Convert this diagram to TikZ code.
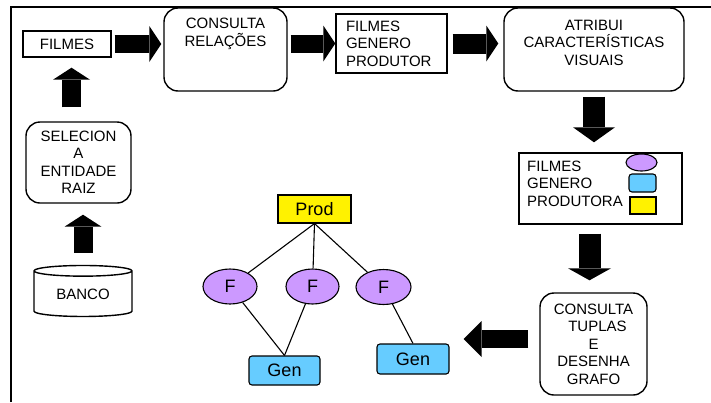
\documentclass[tikz,border=0pt]{standalone}
\usepackage{fontspec}
\setmainfont{Liberation Sans}
\usetikzlibrary{shapes.geometric, arrows.meta, positioning}
\definecolor{lilas}{HTML}{CC99FF}
\definecolor{azul}{HTML}{66CCFF}
\tikzset{every node/.style={font=\fontsize{15}{17.5}\selectfont},
         caixa/.style={draw, line width=1.4pt, inner sep=0pt, align=center},
         caixaredonda/.style={caixa, rounded corners=14pt},
         texto/.style={inner sep=0pt, align=center},
         filme/.style={draw, ellipse, fill=lilas, line width=1.1pt, inner sep=0pt, font=\fontsize{18}{20}\selectfont},
         genero/.style={draw, fill=azul, rounded corners=3pt, line width=1.1pt, inner sep=0pt, font=\fontsize{18}{20}\selectfont},
         produtora/.style={draw, fill=yellow, line width=1.1pt, inner sep=0pt, font=\fontsize{18}{20}\selectfont},
         aresta/.style={line width=1.1pt},
         seta/.style n args={3}{line width=#1, -{Triangle[length=#2, width=#3, line width=0pt]}},
        }

\begin{document}
\begin{tikzpicture}[x=1pt,y=-1pt]
        \useasboundingbox (0,0) rectangle (711,402);
        \draw[line width=1.2pt](11,402)--(11,7)--(711,7);

        % fluxo de cima
        \node[caixa, minimum width=88pt, minimum height=26pt](filmes)at(67,44){FILMES};
        \node[caixaredonda, minimum width=123pt, minimum height=83pt](consulta)at(225.5,49.5){};
        \node[texto](consultatxt)at([yshift=-26.5pt]consulta.north){CONSULTA\\RELAÇÕES};
        \node[caixa, minimum width=111pt, minimum height=59pt, text width=91pt, align=left](lista)at(391.5,43.5){FILMES\\GENERO\\PRODUTOR};
        \node[caixaredonda, minimum width=180pt, minimum height=83pt](atribui)at(594,49.5){};
        \node[texto](atribuitxt)at([yshift=-35.5pt]atribui.north){ATRIBUI\\CARACTERÍSTICAS\\VISUAIS};

        % legenda
        \node[caixa, minimum width=163pt, minimum height=71pt](legenda)at(600.5,188.5){};
        \node[texto, anchor=west, align=left](legendatxt)at(527,183.5){FILMES\\GENERO\\PRODUTORA};
        \node[filme, minimum width=31pt, minimum height=17pt](legf)at(641.5,162.5){};
        \node[genero, minimum width=27pt, minimum height=18pt](legg)at(642.5,183){};
        \node[produtora, minimum width=26pt, minimum height=17pt](legp)at(643,205.5){};

        \node[caixaredonda, minimum width=107pt, minimum height=102pt](tuplas)at(593.5,344){CONSULTA\\\hspace*{8pt}TUPLAS\\E\\DESENHA\\GRAFO};

        % coluna da esquerda
        \node[caixaredonda, minimum width=105pt, minimum height=81pt](selec)at(78.5,162.5){SELECION\\A\\ENTIDADE\\RAIZ};
        \node[draw, cylinder, shape border rotate=90, aspect=0.2, line width=1.4pt, minimum width=98pt, minimum height=51pt, inner sep=0pt](banco)at(83,294){BANCO};

        % grafo
        \node[produtora, minimum width=73pt, minimum height=28pt](prod)at(314.5,209){Prod};
        \node[filme, minimum width=54pt, minimum height=35pt](f1)at(230,286.5){F};
        \node[filme, minimum width=53pt, minimum height=35pt](f2)at(312.5,286.5){F};
        \node[filme, minimum width=55pt, minimum height=35pt](f3)at(383.5,287){F};
        \node[genero, minimum width=71pt, minimum height=29pt](gen1)at(284.5,370.5){Gen};
        \node[genero, minimum width=72pt, minimum height=30pt](gen2)at(413,359){Gen};

        \draw[aresta](prod.south)--(f1);
        \draw[aresta](prod.south)--(f2);
        \draw[aresta](prod.south)--(f3);
        \draw[aresta](f1)--(gen1.north);
        \draw[aresta](f2)--(gen1.north);
        \draw[aresta](f3)--(gen2.north);

        % setas grossas
        \draw[seta={18pt}{12pt}{36pt}, shorten <=3pt, shorten >=2pt](filmes)--(filmes -| consulta.west);
        \draw[seta={18pt}{12pt}{36pt}, shorten <=3pt](lista -| consulta.east)--(lista.west);
        \draw[seta={20pt}{12pt}{36pt}, shorten <=5pt, shorten >=5pt](lista.east)--(lista -| atribui.west);
        \draw[seta={22pt}{15pt}{42pt}, shorten <=5pt, shorten >=10pt](atribui.south)--(atribui.south |- legenda.north);
        \draw[seta={22pt}{12pt}{43pt}, shorten <=9pt, shorten >=12pt]([xshift=-4pt]tuplas.north |- legenda.south)--([xshift=-4pt]tuplas.north);
        \draw[seta={18pt}{18pt}{36pt}, shorten <=11pt, shorten >=14pt]([yshift=5pt]tuplas.west)--([yshift=5pt]tuplas.west -| gen2.east);
        \draw[seta={19pt}{12pt}{37pt}, shorten <=14pt, shorten >=10pt]([xshift=-7pt]selec.north)--([xshift=-7pt]selec.north |- filmes.south);
        \draw[seta={19pt}{12pt}{37pt}, shorten <=12pt, shorten >=11pt](banco.north)--(banco.north |- selec.south);
    \end{tikzpicture}
\end{document}
